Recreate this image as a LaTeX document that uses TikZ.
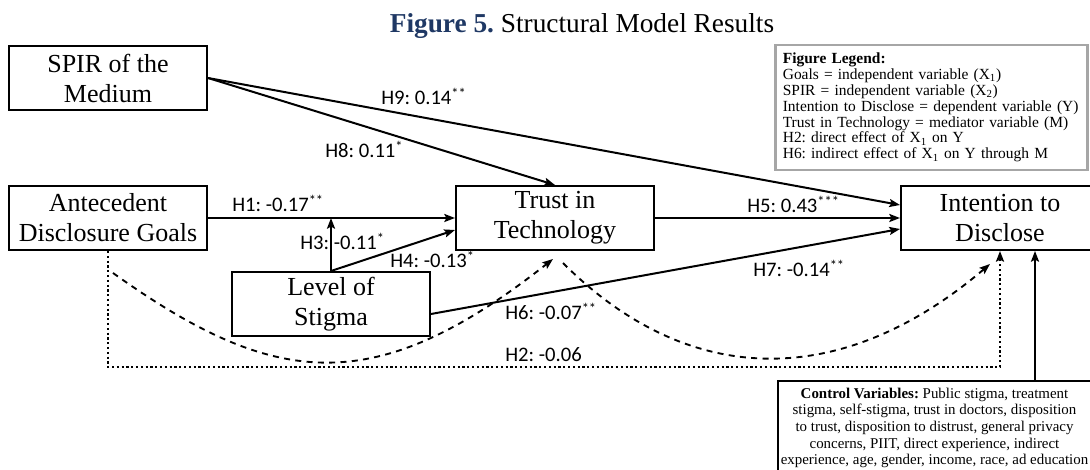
\documentclass[tikz,border=0pt]{standalone}
\usepackage{fontspec}
\setmainfont{Liberation Serif}
\newfontfamily\coeffont{Carlito}
\usepackage{xcolor}
\usepackage{tikz}
\usetikzlibrary{arrows.meta,calc}
\definecolor{titlenavy}{HTML}{1F3864}
\definecolor{legendgray}{HTML}{A6A6A6}
\frenchspacing

\begin{document}
\begin{tikzpicture}[x=.75pt,y=-.75pt,>={Stealth[length=8pt,width=6pt,inset=1.5pt]},
  varbox/.style={draw,line width=1.5pt,minimum width=148.5pt,minimum height=48pt,
    inner sep=0pt,align=center,font=\fontsize{19.5}{22.5}\selectfont},
  coef/.style={anchor=base west,inner sep=0pt,font=\coeffont\fontsize{15.5}{18}\selectfont},
  effect/.style={->,line width=1.5pt},
  mediated/.style={->,line width=1.4pt,dash pattern=on 4.5pt off 4pt},
  direct/.style={->,line width=1.8pt,dash pattern=on 1.6pt off 2pt}]
  \useasboundingbox (0,0) rectangle (1090,470);
  \clip (0,0) rectangle (1090,470);

  \node[anchor=base,font=\fontsize{20.5}{24}\selectfont] (title) at (582,33)
    {\textcolor{titlenavy}{\textbf{Figure 5.}} Structural Model Results};

  % variables
  \node[varbox] (spir) at (108,78) {SPIR of the\\Medium};
  \node[varbox] (goals) at (108,218) {Antecedent\\Disclosure Goals};
  \node[varbox] (trust) at (555,218) {Trust in\\Technology};
  \node[varbox] (stigma) at (331,304) {Level of\\Stigma};
  \node[varbox] (intent) at (1000,218) {Intention to\\Disclose};

  \node[draw=legendgray,line width=2pt,text width=223pt,inner xsep=5.5pt,
    minimum height=93.75pt,align=left,font=\fontsize{11.6}{11.9}\selectfont]
    (legend) at (931.5,107.5)
    {\textbf{Figure Legend:}\\
     Goals = independent variable (X\textsubscript{1})\\
     SPIR = independent variable (X\textsubscript{2})\\
     Intention to Disclose = dependent variable (Y)\\
     Trust in Technology = mediator variable (M)\\
     H2: direct effect of X\textsubscript{1} on Y\\
     H6: indirect effect of X\textsubscript{1} on Y through M};

  \node[anchor=north,minimum width=234.75pt,inner xsep=1pt,
    inner ysep=5pt,align=center,font=\fontsize{11.2}{12.5}\selectfont]
    (control) at (934.5,381)
    {\textbf{Control Variables:} Public stigma, treatment\\
     stigma, self-stigma, trust in doctors, disposition\\
     to trust, disposition to distrust, general privacy\\
     concerns, PIIT, direct experience, indirect\\
     experience, age, gender, income, race, ad education};
  \draw[line width=1.5pt] ($(control.south west)+(0,10)$) -- (control.north west)
    -- ($(control.north east)+(10,0)$);

  % paths
  \draw[effect] (spir.east) -- ($(intent.west)+(0,-13)$);
  \draw[effect] (spir.east) -- (trust.north);
  \draw[effect] (goals.east) -- (trust.west);
  \draw[effect] (stigma.north) -- (stigma.north |- goals.east);
  \draw[effect] (stigma.north) -- ($(trust.west)+(0,12)$);
  \draw[effect] (trust.east) -- (intent.west);
  \draw[effect] ($(stigma.east)+(0,10)$) -- ($(intent.west)+(0,11)$);
  \draw[effect] ($(control.north)+(100.5,0)$) -- ($(intent.south)+(35,0)$);

  \coordinate (h6from) at ($(goals.south)+(5,22)$);
  \draw[mediated] (h6from) .. controls +(160,114) and +(-180,142)
    .. ($(trust.south)+(-2,8)$);
  \draw[mediated] ($(trust.south)+(8,12)$) .. controls +(126,126) and +(-148,126)
    .. ($(intent.south)+(-10,13)$);
  \draw[direct] (goals.south) -- ++(0,116) -| (intent.south);

  % coefficients
  \node[coef] (h9) at (381,105) {H9: 0.14\textsuperscript{**}};
  \node[coef] (h8) at (325,158) {H8: 0.11\textsuperscript{*}};
  \node[coef] (h1) at (232,212) {H1: -0.17\textsuperscript{**}};
  \node[coef] (h3) at (300,250) {H3: -0.11\textsuperscript{*}};
  \node[coef] (h4) at (390,268) {H4: -0.13\textsuperscript{*}};
  \node[coef] (h5) at (747,213) {H5: 0.43\textsuperscript{***}};
  \node[coef] (h7) at (753,277) {H7: -0.14\textsuperscript{**}};
  \node[coef] (h6) at (505,320) {H6: -0.07\textsuperscript{**}};
  \node[coef] (h2) at (505,362) {H2: -0.06};
\end{tikzpicture}
\end{document}
